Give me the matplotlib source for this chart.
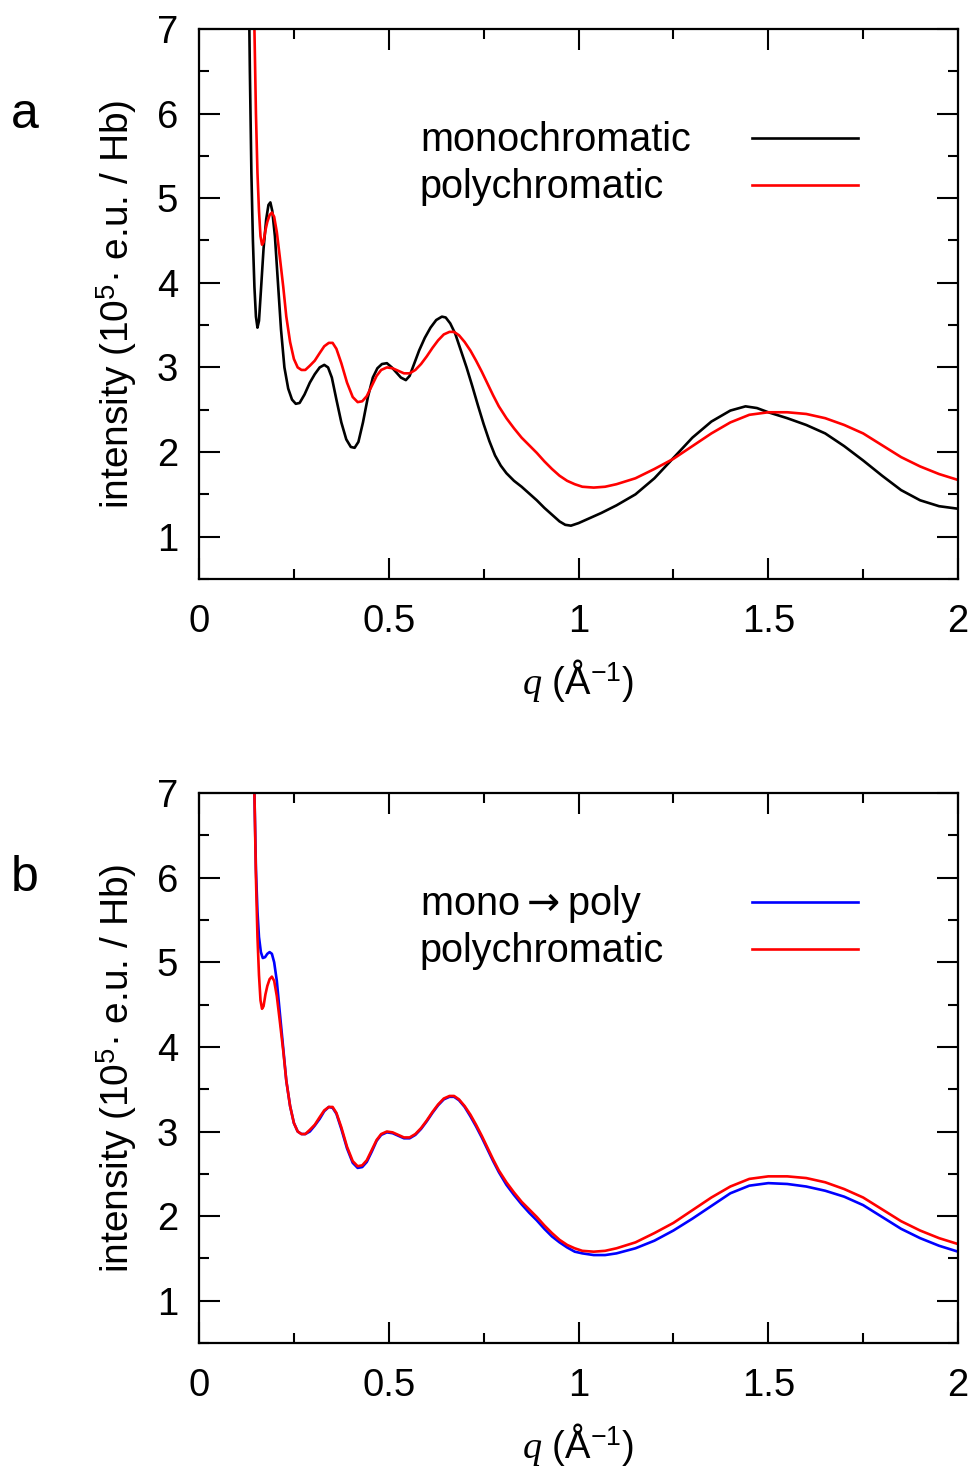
import matplotlib
matplotlib.use('Agg')
import matplotlib.pyplot as plt
from matplotlib.ticker import MultipleLocator

plt.rcParams['font.family'] = ['Liberation Sans', 'DejaVu Sans']
plt.rcParams['mathtext.fontset'] = 'custom'
plt.rcParams['mathtext.rm'] = 'Liberation Sans'
plt.rcParams['mathtext.it'] = 'Liberation Serif:italic'

# monochromatic measurement (panel a, black)
q_mono = [0.130, 0.134, 0.138, 0.142, 0.146, 0.150, 0.154, 0.158, 0.163, 0.170,
          0.177, 0.183, 0.188, 0.193, 0.200, 0.208, 0.216, 0.225, 0.235, 0.245,
          0.255, 0.265, 0.278, 0.292, 0.305, 0.318, 0.330, 0.340, 0.350, 0.362,
          0.375, 0.388, 0.400, 0.410, 0.420, 0.432, 0.445, 0.458, 0.470, 0.482,
          0.495, 0.508, 0.520, 0.532, 0.545, 0.555, 0.565, 0.580, 0.595, 0.610,
          0.625, 0.640, 0.650, 0.662, 0.675, 0.690, 0.705, 0.720, 0.735, 0.750,
          0.765, 0.780, 0.795, 0.810, 0.830, 0.850, 0.870, 0.890, 0.910, 0.930,
          0.950, 0.965, 0.980, 1.000, 1.030, 1.060, 1.100, 1.150, 1.200, 1.250,
          1.300, 1.350, 1.400, 1.440, 1.470, 1.500, 1.550, 1.600, 1.650, 1.700,
          1.750, 1.800, 1.850, 1.900, 1.950, 2.000]
I_mono = [8.00, 6.50, 5.30, 4.50, 3.95, 3.60, 3.47, 3.55, 3.90, 4.40,
          4.75, 4.92, 4.95, 4.85, 4.55, 4.00, 3.45, 3.00, 2.75, 2.62,
          2.57, 2.58, 2.68, 2.82, 2.92, 3.00, 3.03, 3.00, 2.88, 2.62,
          2.35, 2.15, 2.06, 2.05, 2.12, 2.35, 2.65, 2.88, 2.99, 3.04,
          3.05, 3.00, 2.94, 2.88, 2.85, 2.90, 3.02, 3.20, 3.35, 3.47,
          3.56, 3.60, 3.59, 3.52, 3.40, 3.20, 3.00, 2.78, 2.55, 2.33,
          2.13, 1.96, 1.84, 1.75, 1.66, 1.59, 1.51, 1.43, 1.34, 1.26,
          1.18, 1.14, 1.13, 1.16, 1.22, 1.28, 1.37, 1.50, 1.69, 1.93,
          2.17, 2.36, 2.49, 2.54, 2.52, 2.47, 2.40, 2.32, 2.22, 2.07,
          1.90, 1.72, 1.55, 1.43, 1.36, 1.33]

# polychromatic measurement (red, both panels)
q_poly = [0.143, 0.146, 0.150, 0.154, 0.158, 0.162, 0.166, 0.170, 0.175, 0.180,
          0.186, 0.192, 0.198, 0.205, 0.213, 0.222, 0.230, 0.240, 0.250, 0.260,
          0.270, 0.280, 0.292, 0.305, 0.318, 0.330, 0.342, 0.352, 0.362, 0.375,
          0.390, 0.405, 0.418, 0.430, 0.442, 0.455, 0.468, 0.480, 0.495, 0.510,
          0.525, 0.540, 0.555, 0.570, 0.585, 0.600, 0.615, 0.630, 0.645, 0.660,
          0.672, 0.685, 0.700, 0.715, 0.730, 0.745, 0.760, 0.775, 0.790, 0.810,
          0.830, 0.850, 0.870, 0.890, 0.910, 0.930, 0.950, 0.970, 0.990, 1.010,
          1.040, 1.070, 1.100, 1.150, 1.200, 1.250, 1.300, 1.350, 1.400, 1.450,
          1.500, 1.550, 1.600, 1.650, 1.700, 1.750, 1.800, 1.850, 1.900, 1.950,
          2.000]
I_poly = [8.00, 7.00, 6.00, 5.30, 4.85, 4.55, 4.45, 4.48, 4.62, 4.72,
          4.80, 4.83, 4.78, 4.60, 4.30, 3.95, 3.60, 3.30, 3.10, 3.00,
          2.97, 2.97, 3.02, 3.08, 3.17, 3.25, 3.29, 3.29, 3.22, 3.05,
          2.82, 2.65, 2.59, 2.60, 2.66, 2.78, 2.90, 2.97, 3.00, 2.99,
          2.96, 2.93, 2.93, 2.97, 3.04, 3.13, 3.23, 3.32, 3.39, 3.42,
          3.42, 3.38, 3.30, 3.20, 3.08, 2.95, 2.81, 2.67, 2.54, 2.40,
          2.28, 2.17, 2.08, 1.99, 1.89, 1.80, 1.72, 1.66, 1.62, 1.59,
          1.58, 1.59, 1.62, 1.69, 1.80, 1.92, 2.07, 2.22, 2.35, 2.44,
          2.47, 2.47, 2.45, 2.40, 2.32, 2.22, 2.08, 1.94, 1.83, 1.74,
          1.67]

# monochromatic converted to polychromatic (panel b, blue)
q_conv = [0.143, 0.146, 0.150, 0.154, 0.158, 0.163, 0.168, 0.174, 0.180, 0.186,
          0.192, 0.198, 0.205, 0.213, 0.222, 0.230, 0.240, 0.250, 0.260, 0.270,
          0.280, 0.292, 0.305, 0.318, 0.330, 0.342, 0.352, 0.362, 0.375, 0.390,
          0.405, 0.418, 0.430, 0.442, 0.455, 0.468, 0.480, 0.495, 0.510, 0.525,
          0.540, 0.555, 0.570, 0.585, 0.600, 0.615, 0.630, 0.645, 0.660, 0.672,
          0.685, 0.700, 0.715, 0.730, 0.745, 0.760, 0.775, 0.790, 0.810, 0.830,
          0.850, 0.870, 0.890, 0.910, 0.930, 0.950, 0.970, 0.990, 1.010, 1.040,
          1.070, 1.100, 1.150, 1.200, 1.250, 1.300, 1.350, 1.400, 1.450, 1.500,
          1.550, 1.600, 1.650, 1.700, 1.750, 1.800, 1.850, 1.900, 1.950, 2.000]
I_conv = [8.00, 7.00, 6.10, 5.60, 5.30, 5.12, 5.05, 5.06, 5.10, 5.12,
          5.10, 5.00, 4.78, 4.40, 3.98, 3.60, 3.30, 3.10, 3.00, 2.97,
          2.97, 3.00, 3.07, 3.15, 3.24, 3.29, 3.28, 3.21, 3.03, 2.80,
          2.63, 2.57, 2.58, 2.64, 2.76, 2.89, 2.96, 2.99, 2.98, 2.95,
          2.92, 2.92, 2.96, 3.03, 3.12, 3.22, 3.31, 3.38, 3.41, 3.41,
          3.37, 3.29, 3.18, 3.06, 2.93, 2.79, 2.65, 2.52, 2.37, 2.25,
          2.14, 2.04, 1.95, 1.85, 1.76, 1.69, 1.63, 1.58, 1.56, 1.54,
          1.54, 1.56, 1.62, 1.71, 1.83, 1.97, 2.12, 2.27, 2.36, 2.39,
          2.38, 2.35, 2.30, 2.23, 2.13, 1.99, 1.85, 1.74, 1.65, 1.58]

x_ticks = [0, 0.5, 1, 1.5, 2]
x_tick_labels = ['0', '0.5', '1', '1.5', '2']
y_ticks = [1, 2, 3, 4, 5, 6, 7]

fig = plt.figure(figsize=(9.77, 14.68), dpi=100)
ax_a = fig.add_axes([0.2037, 0.6056, 0.7769, 0.3747])
ax_b = fig.add_axes([0.2037, 0.0851, 0.7769, 0.3747])

LW = 1.9


def style_axis(ax):
    ax.set_xlim(0, 2)
    ax.set_ylim(0.5, 7)
    ax.set_xticks(x_ticks)
    ax.set_xticklabels(x_tick_labels)
    ax.set_yticks(y_ticks)
    ax.xaxis.set_minor_locator(MultipleLocator(0.25))
    ax.yaxis.set_minor_locator(MultipleLocator(0.5))
    ax.tick_params(which='both', direction='in', top=True, right=True,
                   width=1.5, labelsize=27.5)
    ax.tick_params(which='major', length=15)
    ax.tick_params(which='minor', length=7.5)
    ax.tick_params(axis='x', pad=18)
    ax.tick_params(axis='y', pad=15)
    for sp in ax.spines.values():
        sp.set_linewidth(1.6)
    ax.set_xlabel(r'$\mathit{q}$ (Å$^{-1}$)', fontsize=27.5, labelpad=12)
    ax.set_ylabel(r'intensity (10$^5$· e.u. / Hb)', fontsize=28, labelpad=13)


def key(ax, labels, colors):
    ys = [0.802, 0.716]
    for lab, col, y in zip(labels, colors, ys):
        ax.text(0.291, y - 0.004, lab, transform=ax.transAxes, fontsize=28.5,
                va='center', ha='left', math_fontfamily='dejavusans')
        ax.plot([0.7286, 0.868], [y, y], transform=ax.transAxes,
                color=col, lw=LW, clip_on=False)


# panel a
ax_a.plot(q_mono, I_mono, color='black', lw=LW)
ax_a.plot(q_poly, I_poly, color='#ff0000', lw=LW)
style_axis(ax_a)
key(ax_a, ['monochromatic', 'polychromatic'], ['black', '#ff0000'])

# panel b
ax_b.plot(q_conv, I_conv, color='#0000ff', lw=LW)
ax_b.plot(q_poly, I_poly, color='#ff0000', lw=LW)
style_axis(ax_b)
key(ax_b, [r'mono$\rightarrow$poly', 'polychromatic'], ['#0000ff', '#ff0000'])

fig.text(25 / 977, 1 - 115 / 1468, 'a', fontsize=36, ha='center', va='center')
fig.text(25 / 977, 1 - 878 / 1468, 'b', fontsize=36, ha='center', va='center')

fig.savefig('out.png', dpi=100)
